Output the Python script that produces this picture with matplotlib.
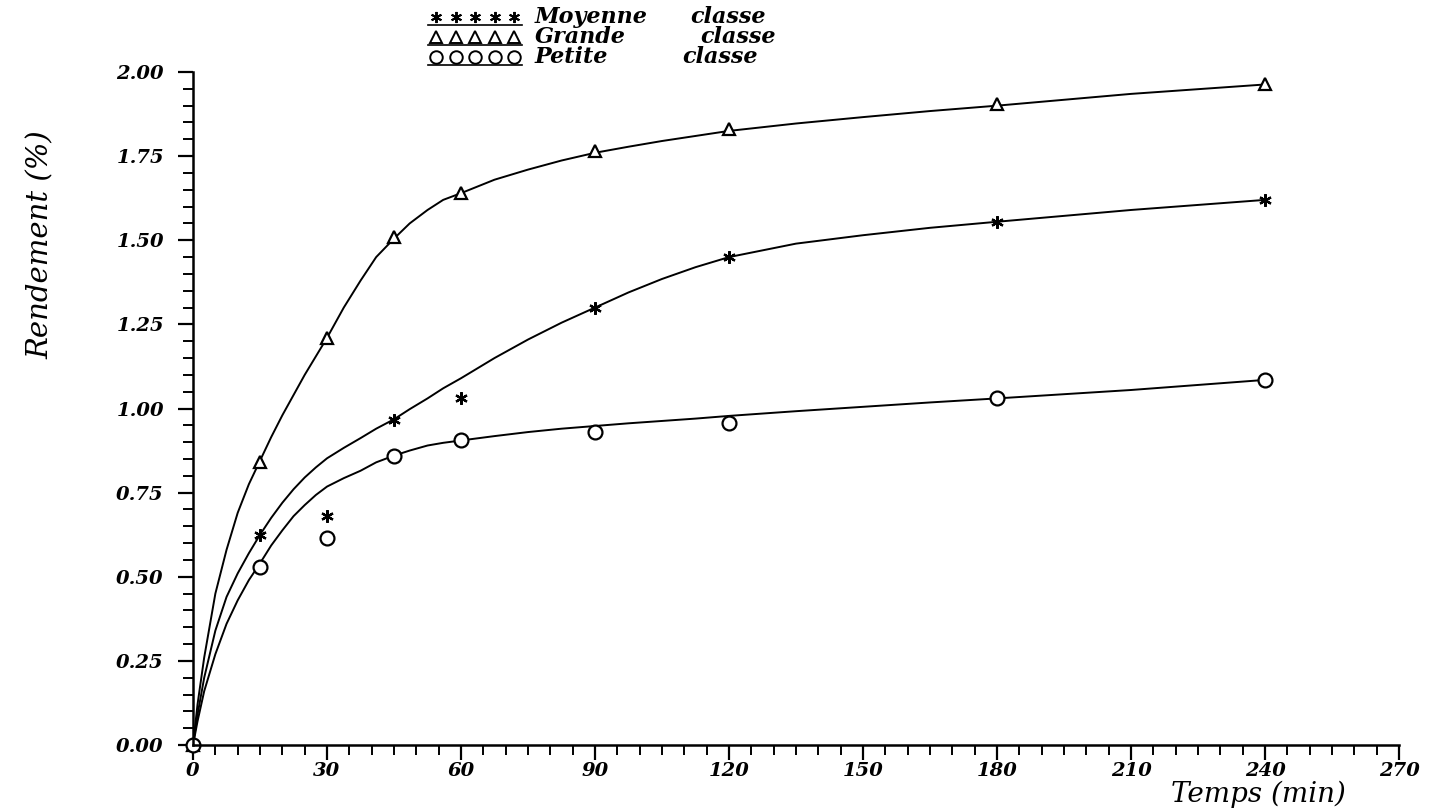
import matplotlib
matplotlib.use('Agg')
import matplotlib.pyplot as plt
from matplotlib.lines import Line2D
from matplotlib.ticker import MultipleLocator, FormatStrFormatter
import numpy as np

# measured points
temps = [0, 15, 30, 45, 60, 90, 120, 180, 240]
grande = [0, 0.84, 1.21, 1.51, 1.64, 1.765, 1.83, 1.905, 1.963]
moyenne = [0, 0.625, 0.68, 0.965, 1.03, 1.30, 1.45, 1.555, 1.62]
petite = [0, 0.53, 0.615, 0.86, 0.905, 0.93, 0.958, 1.03, 1.085]

# fitted curves
fit_t = [0, 1, 2.5, 5, 7.5, 10, 12.5, 15, 17.5, 20, 22.5, 25, 27.5, 30,
         33.75, 37.5, 41, 45, 48.5, 52.5, 56, 60, 67.5, 75, 82.5, 90,
         97.5, 105, 112.5, 120, 135, 150, 165, 180, 210, 240]
fit_grande = [0, 0.12, 0.26, 0.45, 0.58, 0.69, 0.775, 0.845, 0.915, 0.98,
              1.04, 1.10, 1.155, 1.21, 1.30, 1.38, 1.45, 1.505, 1.55, 1.59,
              1.62, 1.64, 1.68, 1.71, 1.737, 1.76, 1.778, 1.795, 1.81, 1.825,
              1.847, 1.866, 1.884, 1.90, 1.935, 1.963]
fit_moyenne = [0, 0.09, 0.20, 0.34, 0.44, 0.51, 0.57, 0.625, 0.675, 0.72,
               0.76, 0.795, 0.825, 0.852, 0.883, 0.912, 0.94, 0.968, 0.998,
               1.03, 1.06, 1.09, 1.15, 1.205, 1.255, 1.30, 1.345, 1.385,
               1.42, 1.45, 1.49, 1.515, 1.537, 1.555, 1.59, 1.62]
fit_petite = [0, 0.07, 0.16, 0.27, 0.36, 0.43, 0.49, 0.54, 0.593, 0.638,
              0.68, 0.713, 0.743, 0.768, 0.793, 0.815, 0.84, 0.86, 0.875,
              0.89, 0.898, 0.905, 0.918, 0.93, 0.94, 0.948, 0.956, 0.963,
              0.97, 0.978, 0.992, 1.005, 1.018, 1.03, 1.055, 1.085]

legend_labels = [('Moyenne', 'classe'), ('Grande', 'classe'), ('Petite', 'classe')]

star = (6, 2, 0)
serif = 'DejaVu Serif'

fig = plt.figure(figsize=(14.32, 8.11), dpi=100)
ax = fig.add_axes([0.1348, 0.0814, 0.977 - 0.1348, 0.9112 - 0.0814])

for fy in (fit_grande, fit_moyenne, fit_petite):
    ax.plot(fit_t, fy, color='black', lw=1.4, clip_on=False)

ax.plot(temps, grande, ls='none', marker='^', ms=9, mfc='white', mec='black', mew=1.6, clip_on=False)
ax.plot(temps, moyenne, ls='none', marker=star, ms=9, color='black', mew=1.6, clip_on=False)
ax.plot(temps, petite, ls='none', marker='o', ms=10, mfc='white', mec='black', mew=1.6, clip_on=False)

ax.set_xlim(0, 270)
ax.set_ylim(0, 2.0)
ax.spines['top'].set_visible(False)
ax.spines['right'].set_visible(False)
ax.spines['left'].set_linewidth(1.8)
ax.spines['bottom'].set_linewidth(1.8)

ax.xaxis.set_major_locator(MultipleLocator(30))
ax.xaxis.set_minor_locator(MultipleLocator(5))
ax.yaxis.set_major_locator(MultipleLocator(0.25))
ax.yaxis.set_minor_locator(MultipleLocator(0.05))
ax.yaxis.set_major_formatter(FormatStrFormatter('%.2f'))
ax.tick_params(which='major', direction='out', length=11, width=1.6)
ax.tick_params(which='minor', direction='out', length=7, width=1.4)
ax.tick_params(axis='x', which='major', pad=1)
ax.tick_params(axis='y', which='major', pad=10)
for lab in ax.get_xticklabels() + ax.get_yticklabels():
    lab.set_fontfamily(serif)
    lab.set_fontstyle('italic')
    lab.set_fontweight('bold')
    lab.set_fontsize(14)

ax.set_ylabel('Rendement (%)', family=serif, style='italic', size=21)
ax.yaxis.set_label_coords(-0.115, 0.743)
ax.set_xlabel('Temps (min)', family=serif, style='italic', size=20, va='center')
ax.xaxis.set_label_coords(0.883, -0.074)

# hand-made legend at the top
W, H = 1432.0, 811.0
markers = [dict(marker=star, ms=8, color='black', mew=1.4),
           dict(marker='^', ms=8, mfc='white', mec='black', mew=1.4),
           dict(marker='o', ms=9, mfc='white', mec='black', mew=1.4)]
rows_y = [17, 37, 57]
class_x = [690, 700, 682]
for (name, cls), m, ry, cx in zip(legend_labels, markers, rows_y, class_x):
    xs = np.linspace(436, 514, 5) / W
    y = 1 - ry / H
    fig.add_artist(Line2D(xs, [y] * 5, ls='none', **m))
    fig.add_artist(Line2D([428 / W, 522 / W], [1 - (ry + 8) / H] * 2, color='black', lw=1.2))
    fig.text(535 / W, y, name, family=serif, style='italic', weight='bold', size=16, va='center')
    fig.text(cx / W, y, cls, family=serif, style='italic', weight='bold', size=16, va='center')

fig.savefig('out.png', dpi=100)
